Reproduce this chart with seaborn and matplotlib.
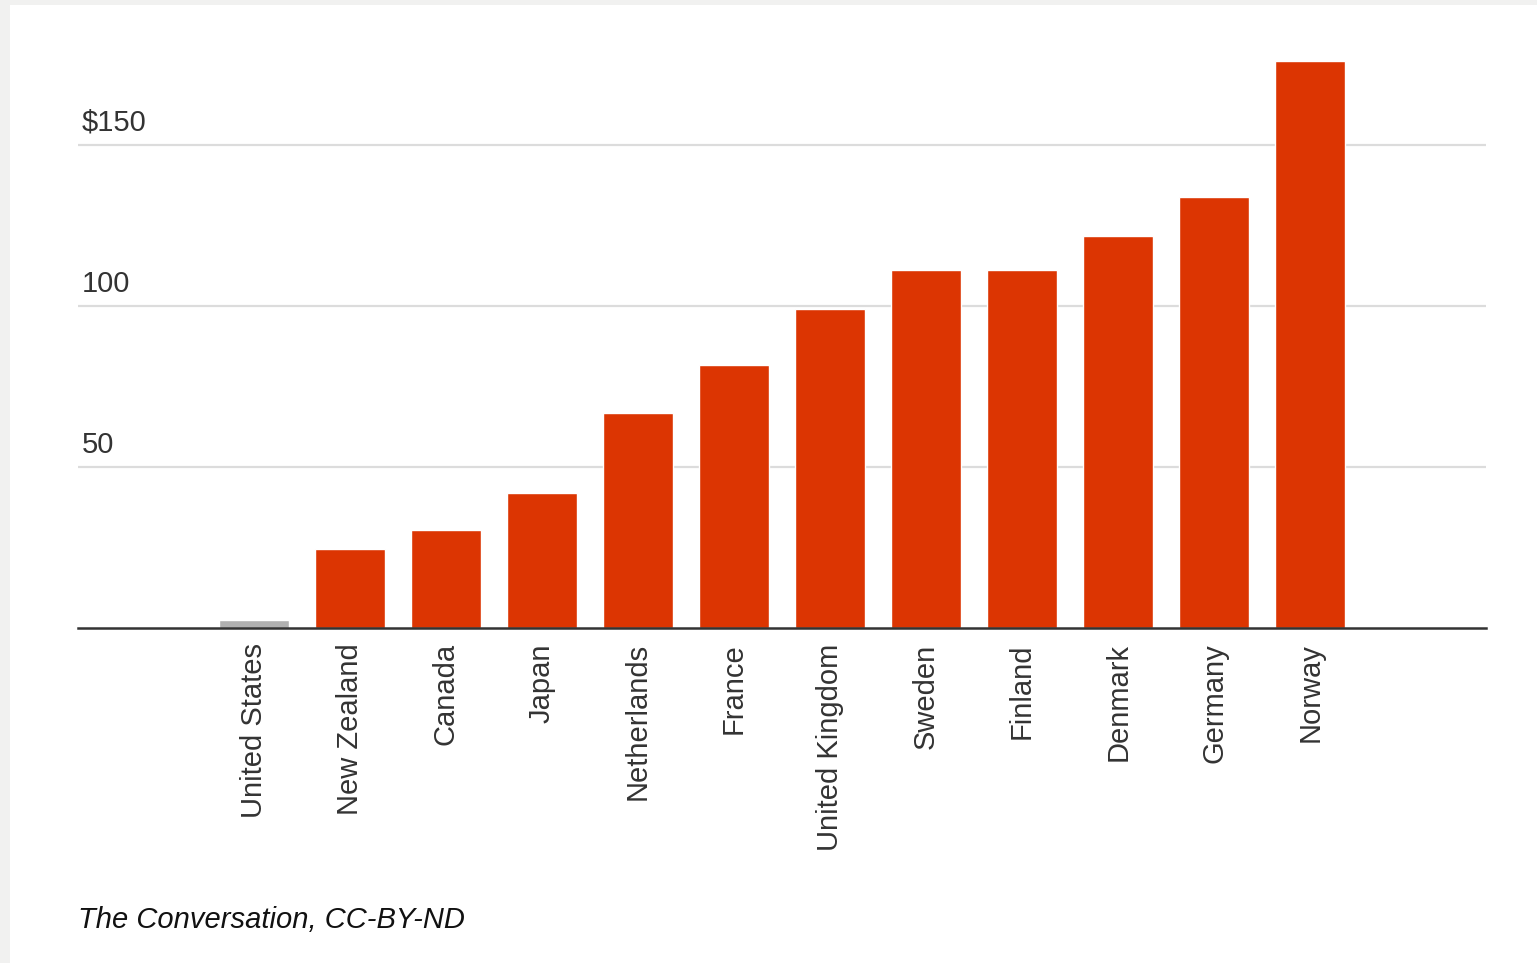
import matplotlib
matplotlib.use("Agg")
import matplotlib.pyplot as plt
import seaborn as sns
import pandas as pd
from matplotlib.transforms import blended_transform_factory, ScaledTranslation

countries = ["United States", "New Zealand", "Canada", "Japan", "Netherlands", "France",
             "United Kingdom", "Sweden", "Finland", "Denmark", "Germany", "Norway"]
values = [2.5, 24.5, 30.4, 41.9, 66.8, 81.7, 99.1, 111.2, 111.2, 121.7, 133.9, 176.1]
ytick_values = [50, 100, 150]
ytick_labels = ["50", "100", "$150"]
caption = "The Conversation, CC-BY-ND"

colors = ["#b0b0b0" if c == "United States" else "#dc3502" for c in countries]
df = pd.DataFrame({"country": countries, "value": values})

sns.set_theme(style="white")
plt.rcParams["font.family"] = ["Liberation Sans", "DejaVu Sans"]

W, H = 1537, 963
fig = plt.figure(figsize=(W / 100, H / 100), dpi=100)
fig.patch.set_facecolor("#f1f1f0")
# white panel behind everything
bg = fig.add_axes([10 / W, 0, 1 - 10 / W, 1 - 5 / H], zorder=-10)
bg.set_facecolor("white")
bg.set_xticks([])
bg.set_yticks([])
for s in bg.spines.values():
    s.set_visible(False)

ax = fig.add_axes([78 / W, 1 - 628 / H, (1486 - 78) / W, (628 - 40) / H], zorder=1)
ax.set_facecolor("none")
sns.barplot(data=df, x="country", y="value", hue="country", palette=colors,
            legend=False, width=0.73, saturation=1, ax=ax, zorder=3)

ax.set_xlim(-1.83, len(countries) - 1 + 1.83)
ax.set_ylim(0, 182.6)
for s in ["top", "right", "left"]:
    ax.spines[s].set_visible(False)
ax.spines["bottom"].set_color("#333333")
ax.spines["bottom"].set_linewidth(1.8)
ax.spines["bottom"].set_zorder(4)

ax.set_yticks(ytick_values)
ax.set_yticklabels([])
ax.tick_params(axis="y", length=0)
ax.grid(axis="y", color="#dcdcdc", linewidth=1.6, zorder=0)
ax.set_axisbelow(True)

trans = blended_transform_factory(ax.transAxes, ax.transData) + ScaledTranslation(0, 0.08, fig.dpi_scale_trans)
for v, lab in zip(ytick_values, ytick_labels):
    ax.text(4 / (1486 - 78), v, lab, transform=trans, ha="left", va="bottom",
            fontsize=21, color="#333333")

ax.set_xlabel("")
ax.set_ylabel("")
ax.tick_params(axis="x", length=0, pad=11)
ax.set_xticks(range(len(countries)))
ax.set_xticklabels(countries, rotation=90, fontsize=21, color="#333333", va="top", ha="center")

fig.text(78 / W, 1 - 920 / H, caption, fontsize=21, style="italic", color="#111111",
         ha="left", va="center")

fig.savefig("out.png", dpi=100, facecolor=fig.get_facecolor())
